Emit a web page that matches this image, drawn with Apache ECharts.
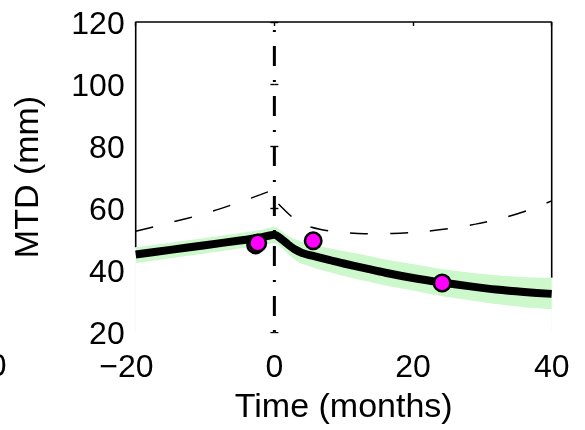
<!DOCTYPE html>
<html>
<head>
<meta charset="utf-8">
<script src="https://cdn.jsdelivr.net/npm/echarts@6/dist/echarts.min.js"></script>
<style>
  html, body { margin: 0; padding: 0; background: #fff; }
  #chart { width: 585px; height: 430px; }
</style>
</head>
<body>
<div id="chart"></div>
<script>
// Axis ranges and ticks
const xTicks = [-20, 0, 20, 40];
const yTicks = [20, 40, 60, 80, 100, 120];

// Model fit of MTD (mm) with its confidence band
const months   = [-20, -15, -10, -5, -2, 0, 1, 2, 3, 4, 6, 8, 10, 13, 16, 20, 24, 28, 32, 36, 40];
const fitMTD   = [45.0, 46.5, 48.0, 49.5, 50.5, 51.4, 50.0, 48.2, 46.6, 45.5, 44.3, 43.2, 42.1, 40.6, 39.1, 37.4, 36.0, 34.8, 33.7, 32.9, 32.3];
const bandLow  = [42.2, 43.8, 45.3, 46.9, 47.9, 48.7, 47.2, 45.2, 43.3, 42.0, 40.5, 39.3, 38.1, 36.5, 35.0, 33.4, 31.6, 30.3, 29.0, 28.0, 27.4];
const bandHigh = [47.3, 48.8, 50.3, 51.9, 52.9, 53.9, 52.6, 51.0, 49.9, 49.1, 47.9, 47.0, 46.1, 44.8, 43.4, 41.9, 40.3, 39.2, 38.3, 37.7, 37.5];

// Reference curve (dashed), before and after time zero
const preMonths  = [-20, -15, -10, -5, -2, 0];
const preRef     = [52.5, 55.3, 58.2, 61.9, 64.3, 66.0];
const postMonths = [0.6, 1.4, 2.5, 3.6, 5, 6.7, 9, 13, 17, 21, 25, 29, 33, 37, 40];
const postRef    = [61.3, 59.5, 57.2, 55.4, 54.0, 53.1, 52.3, 51.7, 51.8, 52.3, 53.3, 54.8, 56.8, 59.6, 62.3];

// Measured MTD
const obsMonths = [-2.7, -2.4, 5.6, 24.2];
const obsMTD    = [48.1, 48.7, 49.4, 35.8];

// Event marker at time zero
const eventMonth = 0;

const FONT = '"Liberation Sans", Arial, Helvetica, sans-serif';
const xMin = xTicks[0], xMax = xTicks[xTicks.length - 1];
const yMin = yTicks[0], yMax = yTicks[yTicks.length - 1];

const pairs = (xs, ys) => xs.map((x, i) => [x, ys[i]]);

const chart = echarts.init(document.getElementById('chart'), null, { renderer: 'canvas' });

const tickStyle = { show: true, inside: true, length: 4, lineStyle: { color: '#000', width: 1.4 } };

const option = {
  backgroundColor: '#fff',
  animation: false,
  grid: { left: 135.7, right: 33.3, top: 22, bottom: 95, containLabel: false },
  xAxis: [
    {
      type: 'value', position: 'bottom', min: xMin, max: xMax, interval: 20,
      axisLine: { show: false }, axisTick: { show: false }, splitLine: { show: false },
      axisLabel: {
        margin: 20, color: '#000', fontSize: 32, fontFamily: FONT,
        formatter: v => v < 0 ? '{m|\u2212}{d|' + Math.abs(v) + '}{p|}' : String(v),
        rich: {
          m: { fontSize: 32, fontFamily: FONT, color: '#000' },
          d: { fontSize: 32, fontFamily: FONT, color: '#000' },
          p: { width: 18.7, fontSize: 32 }
        }
      },
      name: 'Time (months)', nameLocation: 'middle', nameGap: 59,
      nameTextStyle: { fontSize: 34, fontFamily: FONT, color: '#000' }
    },
    {
      type: 'value', position: 'top', min: xMin, max: xMax, interval: 20,
      axisLine: { show: false }, axisTick: tickStyle, axisLabel: { show: false }, splitLine: { show: false }
    }
  ],
  yAxis: [
    {
      type: 'value', position: 'left', min: yMin, max: yMax, interval: 20,
      axisLine: { show: false }, axisTick: tickStyle, splitLine: { show: false },
      axisLabel: {
        margin: 11, color: '#000', fontSize: 32, fontFamily: FONT,
        formatter: v => '{n|' + v + '}',
        rich: { n: { fontSize: 32, fontFamily: FONT, color: '#000', padding: [7, 0, 0, 0] } }
      },
      name: 'MTD (mm)', nameLocation: 'middle', nameGap: 90, nameRotate: 90,
      nameTextStyle: { fontSize: 34, fontFamily: FONT, color: '#000' }
    },
    {
      type: 'value', position: 'right', min: yMin, max: yMax, interval: 20,
      axisLine: { show: false }, axisTick: tickStyle, axisLabel: { show: false }, splitLine: { show: false }
    }
  ],
  graphic: [
    {
      type: 'text', x: 6.5, y: 367,
      style: { text: '0', fontSize: 32, fontFamily: FONT, fill: '#000', align: 'right', verticalAlign: 'middle' }
    }
  ],
  series: [
    // Box outline: left side, top and right side down to the band
    {
      type: 'line', z: 1, clip: false, silent: true, symbol: 'none',
      lineStyle: { color: '#000', width: 1.6 },
      data: [[xMin, bandHigh[0]], [xMin, yMax], [xMax, yMax], [xMax, bandHigh[bandHigh.length - 1]]]
    },
    // Confidence band: filled from its upper edge down to the axis floor
    {
      type: 'line', z: 2, symbol: 'none', silent: true, smooth: 0.25,
      lineStyle: { width: 0 }, areaStyle: { color: '#ccf8cc', opacity: 1, origin: 'start' },
      data: pairs(months, bandHigh)
    },
    // ...then everything below its lower edge is blanked out in white
    {
      type: 'line', z: 2, symbol: 'none', silent: true, smooth: 0.25,
      lineStyle: { width: 0 }, areaStyle: { color: '#fff', opacity: 1, origin: 'start' },
      data: pairs(months, bandLow)
    },
    // Reference curve before zero
    {
      type: 'line', z: 3, symbol: 'none', silent: true, smooth: 0.3,
      lineStyle: { color: '#000', width: 1.5, type: [18, 22] },
      data: pairs(preMonths, preRef)
    },
    // Reference curve after zero
    {
      type: 'line', z: 3, symbol: 'none', silent: true, smooth: 0.3,
      lineStyle: { color: '#000', width: 1.5, type: [18, 22] },
      data: pairs(postMonths, postRef)
    },
    // Model fit
    {
      type: 'line', z: 4, symbol: 'none', silent: true, smooth: 0.25,
      lineStyle: { color: '#000', width: 8, cap: 'butt', join: 'round' },
      data: pairs(months, fitMTD)
    },
    // Vertical dash-dot line at time zero
    {
      type: 'line', z: 5, symbol: 'none', silent: true,
      lineStyle: { color: '#000', width: 3, type: [2, 14, 20, 14], cap: 'butt' },
      data: [[eventMonth, yMin], [eventMonth, yMax]]
    },
    // Measurements
    {
      type: 'scatter', z: 6, silent: true,
      symbol: 'circle', symbolSize: 16.5,
      itemStyle: { color: '#ff00ff', borderColor: '#000', borderWidth: 2.5, opacity: 1 },
      data: pairs(obsMonths, obsMTD)
    }
  ]
};

chart.setOption(option);
</script>
</body>
</html>
